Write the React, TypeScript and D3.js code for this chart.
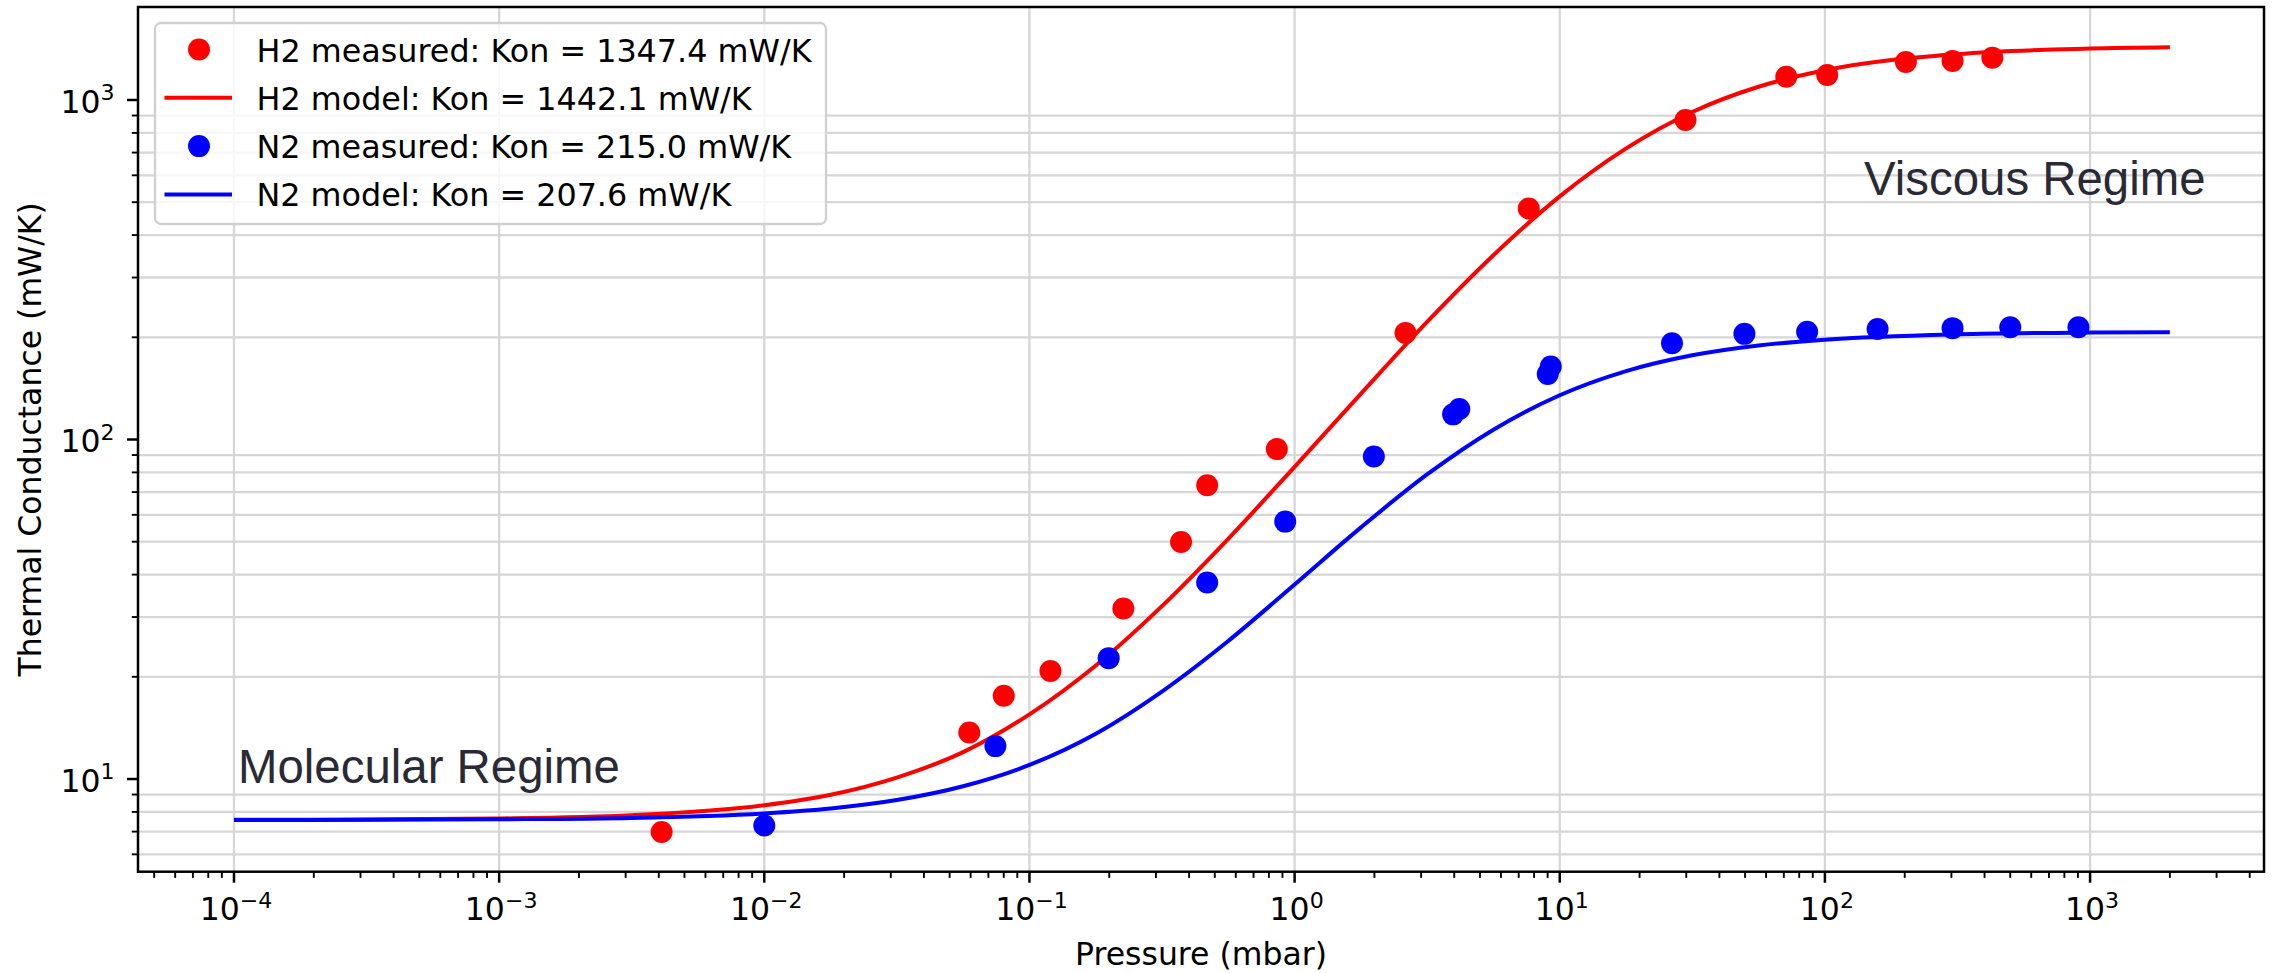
import React from 'react';
import * as d3 from 'd3';

if (typeof document !== 'undefined') {
  document.body.style.margin = '0';
}

// ---- data ----
const h2MeasuredP = [0.0041, 0.0593, 0.08, 0.12, 0.226, 0.373, 0.468, 0.857, 2.62, 7.64, 29.8, 71.5, 102, 202, 303, 428];
const h2MeasuredK = [6.98, 13.7, 17.6, 20.8, 31.8, 49.9, 73.3, 93.7, 206, 479, 873, 1171, 1185, 1294, 1303, 1332];

const n2MeasuredP = [0.01, 0.0744, 0.199, 0.468, 0.922, 1.99, 3.96, 4.18, 9.01, 9.25, 26.5, 49.7, 85.7, 158, 303, 500, 904];
const n2MeasuredK = [7.3, 12.5, 22.7, 37.9, 57.3, 89.1, 118.6, 123, 156, 164, 192, 204.7, 207.7, 211.6, 212.8, 214, 214];

const modelP = [1e-4, 3.16e-4, 1e-3, 3.16e-3, 0.01, 0.0178, 0.0316, 0.0562, 0.1, 0.178, 0.316, 0.562, 1, 1.78, 3.16, 5.62, 10, 17.8, 31.6, 56.2, 100, 316, 1000, 2000];
const h2ModelK = [7.58, 7.6, 7.65, 7.82, 8.37, 8.99, 10.1, 12.0, 15.5, 21.6, 32.3, 51.0, 83.1, 136.5, 222, 349, 520, 720, 922, 1094, 1223, 1365, 1417, 1429];
const n2ModelK = [7.57, 7.58, 7.61, 7.68, 7.92, 8.19, 8.67, 9.52, 11.0, 13.6, 18.1, 25.5, 37.4, 55.1, 78.9, 106.9, 135, 159, 177, 189.2, 196.8, 204.1, 206.5, 207.0];

const xTickExps = [-4, -3, -2, -1, 0, 1, 2, 3];
const yTickExps = [1, 2, 3];

const legendLabels = [
  'H2 measured: Kon = 1347.4 mW/K',
  'H2 model: Kon = 1442.1 mW/K',
  'N2 measured: Kon = 215.0 mW/K',
  'N2 model: Kon = 207.6 mW/K',
];
const legendKinds = ['dot', 'line', 'dot', 'line'];
const legendColors = ['#ff0000', '#ff0000', '#0000ff', '#0000ff'];

const xLabel = 'Pressure (mbar)';
const yLabel = 'Thermal Conductance (mW/K)';
const molecularText = 'Molecular Regime';
const viscousText = 'Viscous Regime';

// ---- layout ----
const W = 2272;
const H = 973;
const L = 138;
const R = 2264;
const T = 7;
const B = 871.7;
const FONT = 'DejaVu Sans, sans-serif';
const FS = 31.5;

const x = d3.scaleLog().domain([Math.pow(10, -4.362), Math.pow(10, 3.656)]).range([L, R]);
const y = d3.scaleLog().domain([Math.pow(10, 0.727), Math.pow(10, 3.2739)]).range([B, T]);

function minorValues(lo: number, hi: number, domain: [number, number]) {
  const out: number[] = [];
  for (let e = lo; e <= hi; e++) {
    for (let m = 2; m <= 9; m++) {
      const v = m * Math.pow(10, e);
      if (v >= domain[0] && v <= domain[1]) out.push(v);
    }
  }
  return out;
}

const xMinor = minorValues(-5, 3, x.domain() as [number, number]);
const yMinor = minorValues(0, 3, y.domain() as [number, number]);

const line = d3
  .line<[number, number]>()
  .x((d) => x(d[0]))
  .y((d) => y(d[1]))
  .curve(d3.curveMonotoneX);

const supText = (e: number) => (e < 0 ? '\u2212' + String(-e) : String(e));

export default function App() {
  const h2Model = modelP.map((p, i) => [p, h2ModelK[i]] as [number, number]);
  const n2Model = modelP.map((p, i) => [p, n2ModelK[i]] as [number, number]);

  const legX = 155;
  const legY = 23;
  const legW = 671;
  const legH = 201;
  const entryY = (i: number) => 49.5 + 48.3 * i;

  return (
    <svg width={W} height={H} style={{ display: 'block', background: '#fff' }} fontFamily={FONT}>
      <rect x={0} y={0} width={W} height={H} fill="#fff" />
      <defs>
        <clipPath id="plotclip">
          <rect x={L} y={T} width={R - L} height={B - T} />
        </clipPath>
      </defs>

      {/* grid: vertical at decades, horizontal at minor values */}
      <g stroke="#d6d6d6" strokeWidth={2.3}>
        {xTickExps.map((e) => (
          <line key={'gx' + e} x1={x(Math.pow(10, e))} x2={x(Math.pow(10, e))} y1={T} y2={B} />
        ))}
        {yMinor.map((v) => (
          <line key={'gy' + v} x1={L} x2={R} y1={y(v)} y2={y(v)} />
        ))}
      </g>

      {/* regime annotations */}
      <text x={238} y={783} fontFamily="Liberation Sans, Arial, sans-serif" fontSize={47.4} fill="#2a2a36">
        {molecularText}
      </text>
      <text x={1864} y={195} fontFamily="Liberation Sans, Arial, sans-serif" fontSize={47.4} fill="#2a2a36">
        {viscousText}
      </text>

      <g clipPath="url(#plotclip)">
        {h2MeasuredP.map((p, i) => (
          <circle key={'h' + i} cx={x(p)} cy={y(h2MeasuredK[i])} r={11} fill="#ff0000" />
        ))}
        <path d={line(h2Model) || ''} fill="none" stroke="#ff0000" strokeWidth={4} />
        {n2MeasuredP.map((p, i) => (
          <circle key={'n' + i} cx={x(p)} cy={y(n2MeasuredK[i])} r={11} fill="#0000ff" />
        ))}
        <path d={line(n2Model) || ''} fill="none" stroke="#0000ff" strokeWidth={4} />
      </g>

      {/* spines */}
      <rect x={L} y={T} width={R - L} height={B - T} fill="none" stroke="#000" strokeWidth={2.5} />

      {/* x ticks */}
      <g stroke="#000">
        {xTickExps.map((e) => (
          <line key={'xt' + e} x1={x(Math.pow(10, e))} x2={x(Math.pow(10, e))} y1={B} y2={B + 11} strokeWidth={2.5} />
        ))}
        {xMinor.map((v) => (
          <line key={'xm' + v} x1={x(v)} x2={x(v)} y1={B} y2={B + 6.2} strokeWidth={1.9} />
        ))}
        {yTickExps.map((e) => (
          <line key={'yt' + e} x1={L - 11} x2={L} y1={y(Math.pow(10, e))} y2={y(Math.pow(10, e))} strokeWidth={2.5} />
        ))}
        {yMinor.map((v) => (
          <line key={'ym' + v} x1={L - 6.2} x2={L} y1={y(v)} y2={y(v)} strokeWidth={1.9} />
        ))}
      </g>

      {/* x tick labels */}
      {xTickExps.map((e) => (
        <text key={'xl' + e} x={x(Math.pow(10, e)) + 2} y={920} textAnchor="middle" fontSize={FS} fill="#000">
          10
          <tspan dy={-12.5} fontSize={FS * 0.7}>
            {supText(e)}
          </tspan>
        </text>
      ))}
      {/* y tick labels */}
      {yTickExps.map((e) => (
        <text key={'yl' + e} x={114.5} y={y(Math.pow(10, e)) + 12.7} textAnchor="end" fontSize={FS} fill="#000">
          10
          <tspan dy={-12.7} fontSize={FS * 0.7}>
            {supText(e)}
          </tspan>
        </text>
      ))}

      {/* axis labels */}
      <text x={(L + R) / 2} y={965} textAnchor="middle" fontSize={FS} fill="#000">
        {xLabel}
      </text>
      <text
        transform={`translate(41, ${(T + B) / 2}) rotate(-90)`}
        textAnchor="middle"
        fontSize={FS}
        fill="#000"
      >
        {yLabel}
      </text>

      {/* legend */}
      <rect x={legX} y={legY} width={legW} height={legH} rx={6} ry={6} fill="#fff" fillOpacity={0.8} stroke="#d0d0d0" strokeWidth={2.3} />
      {legendLabels.map((lab, i) => (
        <g key={'lg' + i}>
          {legendKinds[i] === 'dot' ? (
            <circle cx={199} cy={entryY(i)} r={11} fill={legendColors[i]} />
          ) : (
            <line x1={164.5} x2={232} y1={entryY(i)} y2={entryY(i)} stroke={legendColors[i]} strokeWidth={4} />
          )}
          <text x={256.5} y={entryY(i) + 12} fontSize={31.8} fill="#000">
            {lab}
          </text>
        </g>
      ))}
    </svg>
  );
}
